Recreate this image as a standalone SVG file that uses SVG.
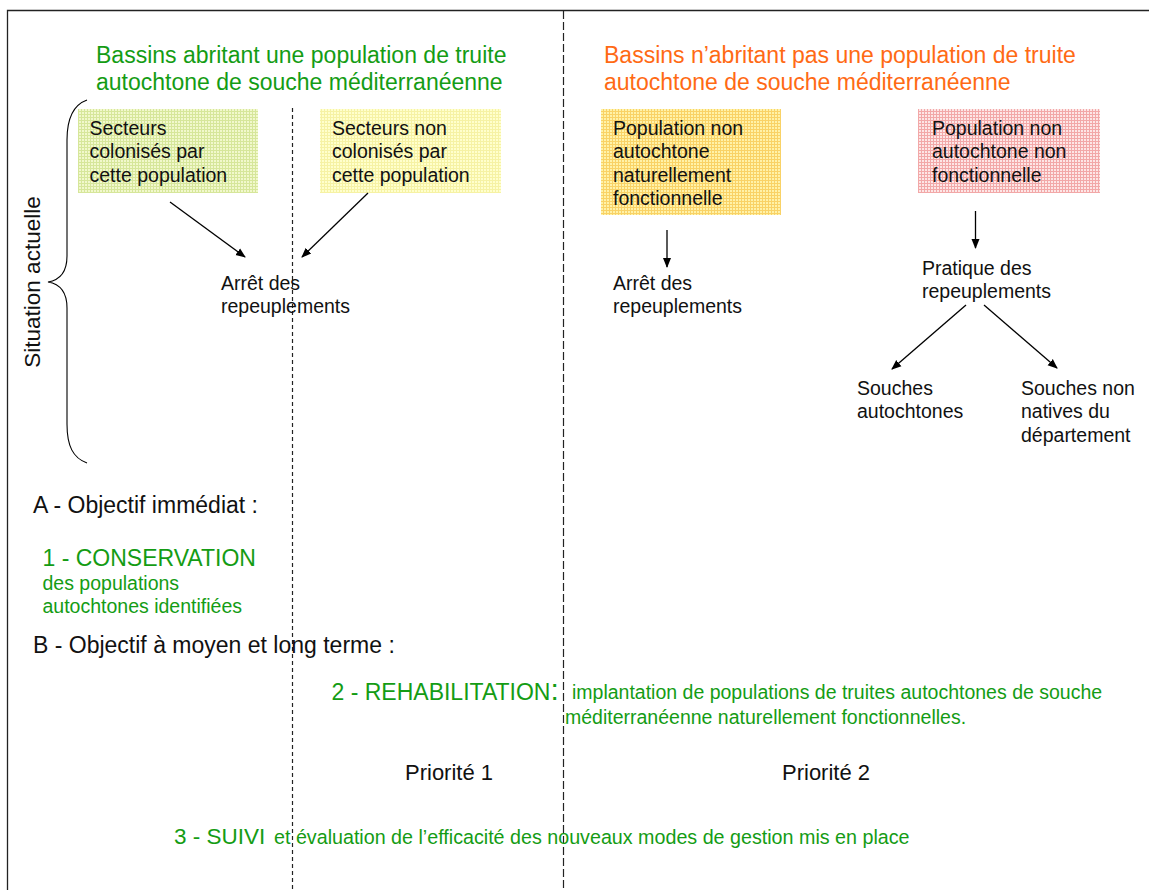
<svg xmlns="http://www.w3.org/2000/svg" width="1149" height="890" viewBox="0 0 1149 890">
<style>
text{font-family:"Liberation Sans",Arial,sans-serif;fill:#111}
.t{font-size:19.5px}
.h{font-size:23px}
.g{fill:#149c14}
.o{fill:#ff6a14}
.con{stroke:#000;stroke-width:1.3;fill:none;marker-end:url(#ah)}
.frame{stroke:#222;stroke-width:1.3;fill:none}
.dl{stroke:#222;stroke-width:1.2;fill:none}
</style>
<defs>
<marker id="ah" viewBox="0 0 10 10" refX="9" refY="5" markerWidth="10" markerHeight="10" markerUnits="userSpaceOnUse" orient="auto">
<path d="M0,1 L10,5 L0,9 Z" fill="#000"/>
</marker>
<pattern id="pG" width="3" height="3" patternUnits="userSpaceOnUse"><rect width="3" height="3" fill="#f1f8cc"/><path d="M0,0.5H3M0.5,0V3" stroke="#d6e69a" stroke-width="1"/></pattern>
<pattern id="pY" width="3" height="3" patternUnits="userSpaceOnUse"><rect width="3" height="3" fill="#ffffcc"/><path d="M0,0.5H3M0.5,0V3" stroke="#f6f2a4" stroke-width="1"/></pattern>
<pattern id="pO" width="3" height="3" patternUnits="userSpaceOnUse"><rect width="3" height="3" fill="#fff2a8"/><path d="M0,0.5H3M0.5,0V3" stroke="#f9d266" stroke-width="1"/></pattern>
<pattern id="pP" width="3" height="3" patternUnits="userSpaceOnUse"><rect width="3" height="3" fill="#fde6e6"/><path d="M0,0.5H3M0.5,0V3" stroke="#f2a8a8" stroke-width="1"/></pattern>
</defs>
<rect width="1149" height="890" fill="#fff"/>
<path class="frame" d="M7.5,890 V10.5 H1149"/>
<line class="dl" x1="563.5" y1="11" x2="563.5" y2="890" stroke-dasharray="8 3"/>
<line class="dl" x1="292.5" y1="108" x2="292.5" y2="890" stroke-dasharray="4 3"/>

<g id="title-green">
<text class="h g" x="96" y="63">Bassins abritant une population de truite</text>
<text class="h g" x="96" y="90">autochtone de souche méditerranéenne</text>
</g>
<g id="title-orange">
<text class="h o" x="604" y="63">Bassins n’abritant pas une population de truite</text>
<text class="h o" x="604" y="90">autochtone de souche méditerranéenne</text>
</g>

<g id="situation">
<path d="M87,100 C73,105 67,118 67,140 L67,256 C67,272 60,280 48,282 C60,284 67,292 67,308 L67,424 C67,446 73,458 87,463" fill="none" stroke="#000" stroke-width="1.1"/>
<text class="h" transform="translate(40,282) rotate(-90)" text-anchor="middle" style="font-size:22.5px">Situation actuelle</text>
</g>

<g id="box-colonises">
<rect x="78" y="109" width="180" height="84" fill="url(#pG)"/>
<text class="t" x="89.5" y="135">Secteurs</text>
<text class="t" x="89.5" y="158">colonisés par</text>
<text class="t" x="89.5" y="181.5">cette population</text>
</g>
<g id="box-non-colonises">
<rect x="320" y="109" width="181" height="84" fill="url(#pY)"/>
<text class="t" x="332" y="135">Secteurs non</text>
<text class="t" x="332" y="158">colonisés par</text>
<text class="t" x="332" y="181.5">cette population</text>
</g>
<g id="box-fonctionnelle">
<rect x="601" y="109" width="180" height="106" fill="url(#pO)"/>
<text class="t" x="613" y="135">Population non</text>
<text class="t" x="613" y="158">autochtone</text>
<text class="t" x="613" y="181.5">naturellement</text>
<text class="t" x="613" y="205">fonctionnelle</text>
</g>
<g id="box-non-fonctionnelle">
<rect x="918" y="109" width="182" height="84" fill="url(#pP)"/>
<text class="t" x="932" y="135">Population non</text>
<text class="t" x="932" y="158">autochtone non</text>
<text class="t" x="932" y="181.5">fonctionnelle</text>
</g>

<g id="arret1">
<text class="t" x="221" y="289.5">Arrêt des</text>
<text class="t" x="221" y="312.5">repeuplements</text>
</g>
<g id="arret2">
<text class="t" x="613" y="290">Arrêt des</text>
<text class="t" x="613" y="313">repeuplements</text>
</g>
<g id="pratique">
<text class="t" x="922" y="275">Pratique des</text>
<text class="t" x="922" y="298">repeuplements</text>
</g>
<g id="souches-auto">
<text class="t" x="857" y="395">Souches</text>
<text class="t" x="857" y="418">autochtones</text>
</g>
<g id="souches-non">
<text class="t" x="1021" y="395">Souches non</text>
<text class="t" x="1021" y="418">natives du</text>
<text class="t" x="1021" y="441.5">département</text>
</g>

<g id="connectors">
<line class="con" x1="170" y1="202" x2="245" y2="257"/>
<line class="con" x1="368" y1="193" x2="302" y2="257"/>
<line class="con" x1="667" y1="230" x2="667" y2="267"/>
<line class="con" x1="975.5" y1="211" x2="975.5" y2="248"/>
<line class="con" x1="966" y1="305" x2="892" y2="369"/>
<line class="con" x1="984" y1="305" x2="1057" y2="368"/>
</g>

<g id="objectif-a">
<text class="h" x="33" y="513">A - Objectif immédiat :</text>
<text class="h g" x="42.5" y="566">1 - CONSERVATION</text>
<text class="t g" x="42.5" y="590">des populations</text>
<text class="t g" x="42.5" y="613">autochtones identifiées</text>
</g>
<g id="objectif-b">
<text class="h" x="33" y="653">B - Objectif à moyen et long terme :</text>
<text class="h g" x="331.5" y="699.5">2 - REHABILITATION<tspan style="font-size:30px">:</tspan></text>
<text class="t g" x="572" y="698.5">implantation de populations de truites autochtones de souche</text>
<text class="t g" x="565" y="723.5">méditerranéenne naturellement fonctionnelles.</text>
</g>
<g id="priorites">
<text x="405" y="779.5" style="font-size:22px">Priorité 1</text>
<text x="782" y="779.5" style="font-size:22px">Priorité 2</text>
</g>
<g id="suivi">
<text class="g" x="174" y="844" style="font-size:22.5px">3 - SUIVI</text>
<text class="g" x="274" y="844" style="font-size:19.7px">et évaluation de l’efficacité des nouveaux modes de gestion mis en place</text>
</g>
</svg>
